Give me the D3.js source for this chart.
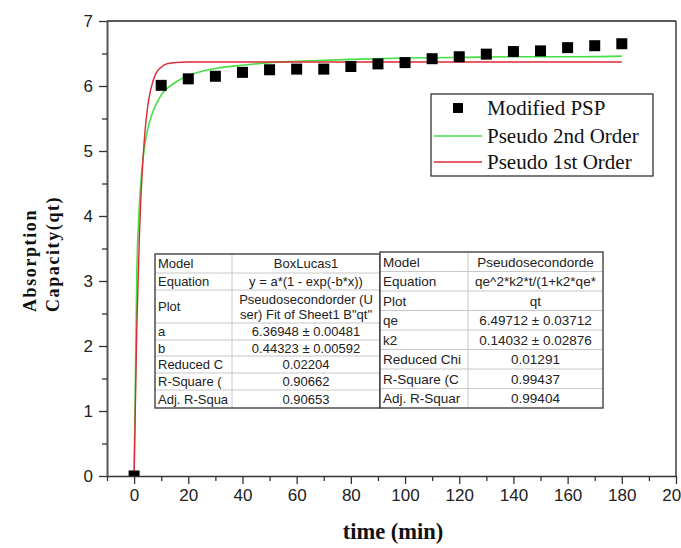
<!DOCTYPE html>
<html>
<head>
<meta charset="utf-8">
<script src="https://cdn.jsdelivr.net/npm/d3@7"></script>
<style>
  html, body { margin: 0; padding: 0; background: #fff; }
  svg { display: block; }
</style>
</head>
<body>
<div id="chart"></div>
<script>
// ---------------- DATA ----------------
const pspTime  = [0, 10, 20, 30, 40, 50, 60, 70, 80, 90, 100, 110, 120, 130, 140, 150, 160, 170, 180];
const pspValue = [0, 6.01, 6.11, 6.15, 6.21, 6.25, 6.26, 6.26, 6.30, 6.34, 6.36, 6.42, 6.45, 6.49, 6.53, 6.54, 6.59, 6.62, 6.65];

const secondTime  = [0, 1, 2, 3, 4, 5, 6, 8, 10, 15, 20, 30, 40, 50, 60, 80, 100, 120, 140, 160, 180];
const secondValue = [0, 3.10, 4.20, 4.76, 5.10, 5.33, 5.49, 5.71, 5.86, 6.05, 6.16, 6.27, 6.32, 6.36, 6.38, 6.41, 6.43, 6.44, 6.45, 6.45, 6.46];

const firstTime  = [0, 1, 2, 3, 4, 5, 6, 8, 10, 12, 15, 20, 30, 60, 90, 120, 150, 180];
const firstValue = [0, 2.28, 3.74, 4.68, 5.29, 5.68, 5.92, 6.19, 6.29, 6.34, 6.36, 6.37, 6.37, 6.37, 6.37, 6.37, 6.37, 6.37];

const xMajorTicks = [0, 20, 40, 60, 80, 100, 120, 140, 160, 180, 200];
const xMinorTicks = [-10, 10, 30, 50, 70, 90, 110, 130, 150, 170, 190];
const yMajorTicks = [0, 1, 2, 3, 4, 5, 6, 7];
const yMinorTicks = [0.5, 1.5, 2.5, 3.5, 4.5, 5.5, 6.5];

const legendLabels = ["Modified PSP", "Pseudo 2nd Order", "Pseudo 1st Order"];

const table1Labels = ["Model", "Equation", "Plot", "a", "b", "Reduced C", "R-Square (", "Adj. R-Squa"];
const table1Values = [["BoxLucas1"], ["y = a*(1 - exp(-b*x))"], ["Pseudosecondorder  (U", "ser) Fit of Sheet1 B\"qt\""],
                      ["6.36948 \u00b1 0.00481"], ["0.44323 \u00b1 0.00592"], ["0.02204"], ["0.90662"], ["0.90653"]];
const table2Labels = ["Model", "Equation", "Plot", "qe", "k2", "Reduced Chi", "R-Square (C", "Adj. R-Squar"];
const table2Values = [["Pseudosecondorde"], ["qe^2*k2*t/(1+k2*qe*"], ["qt"], ["6.49712 \u00b1 0.03712"],
                      ["0.14032 \u00b1 0.02876"], ["0.01291"], ["0.99437"], ["0.99404"]];

// ---------------- LAYOUT ----------------
const W = 681, H = 548;
const L = 107, R = 676, T = 21, B = 476;

const svg = d3.select("#chart").append("svg")
  .attr("width", W).attr("height", H)
  .style("background", "#fff");

const x = d3.scaleLinear().domain([-10, 200]).range([L, R]);
const y = d3.scaleLinear().domain([0, 7]).range([B, T]);

const sans = "'Liberation Sans', Arial, sans-serif";
const serif = "'Liberation Serif', 'Times New Roman', serif";

// clip
svg.append("defs").append("clipPath").attr("id", "plotClip")
  .append("rect").attr("x", L).attr("y", T).attr("width", R - L).attr("height", B - T);

// frame top/right
svg.append("line").attr("x1", L).attr("x2", R).attr("y1", T).attr("y2", T)
  .attr("stroke", "#222").attr("stroke-width", 1.3);
svg.append("line").attr("x1", R).attr("x2", R).attr("y1", T).attr("y2", B)
  .attr("stroke", "#222").attr("stroke-width", 1.3);

// ---------------- CURVES & POINTS ----------------
const plot = svg.append("g").attr("clip-path", "url(#plotClip)");

const line = d3.line().x(d => x(d[0])).y(d => y(d[1])).curve(d3.curveMonotoneX);

plot.append("path")
  .datum(secondTime.map((t, i) => [t, secondValue[i]]))
  .attr("d", line).attr("fill", "none")
  .attr("stroke", "#46e046").attr("stroke-width", 1.6);

plot.append("path")
  .datum(firstTime.map((t, i) => [t, firstValue[i]]))
  .attr("d", line).attr("fill", "none")
  .attr("stroke", "#dd2a36").attr("stroke-width", 1.4);

const sq = 11;
plot.selectAll("rect.pt")
  .data(pspTime.map((t, i) => [t, pspValue[i]]))
  .join("rect").attr("class", "pt")
  .attr("x", d => x(d[0]) - sq / 2).attr("y", d => y(d[1]) - sq / 2)
  .attr("width", sq).attr("height", sq).attr("fill", "#000");

// ---------------- TABLES ----------------
function drawTable(x0, x1, xDiv, y0, rowHeights, labels, values, fontSize, id) {
  const g = svg.append("g");
  const total = d3.sum(rowHeights);
  g.append("rect").attr("x", x0).attr("y", y0).attr("width", x1 - x0).attr("height", total)
    .attr("fill", "#fff");
  g.append("clipPath").attr("id", id)
    .append("rect").attr("x", xDiv + 1).attr("y", y0).attr("width", x1 - xDiv - 2).attr("height", total);
  let yy = y0;
  const cx = (xDiv + x1) / 2;
  labels.forEach((lab, i) => {
    const h = rowHeights[i];
    if (i > 0) {
      g.append("line").attr("x1", x0).attr("x2", x1).attr("y1", yy).attr("y2", yy)
        .attr("stroke", "#c8c8c8").attr("stroke-width", 1);
    }
    g.append("text").attr("x", x0 + 3).attr("y", yy + h / 2 + fontSize * 0.36)
      .attr("font-family", sans).attr("font-size", fontSize).attr("fill", "#222").text(lab);
    const vals = values[i];
    const lh = fontSize * 1.15;
    vals.forEach((v, j) => {
      g.append("text").attr("x", cx)
        .attr("y", yy + h / 2 + fontSize * 0.36 + (j - (vals.length - 1) / 2) * lh)
        .attr("text-anchor", "middle").attr("clip-path", `url(#${id})`)
        .attr("font-family", sans).attr("font-size", fontSize).attr("fill", "#222").text(v);
    });
    yy += h;
  });
  g.append("line").attr("x1", xDiv).attr("x2", xDiv).attr("y1", y0).attr("y2", y0 + total)
    .attr("stroke", "#c8c8c8").attr("stroke-width", 1);
  g.append("rect").attr("x", x0).attr("y", y0).attr("width", x1 - x0).attr("height", total)
    .attr("fill", "none").attr("stroke", "#333").attr("stroke-width", 1.3);
}

drawTable(155, 380, 232, 254, [19, 17, 33, 17, 16, 17, 17, 18], table1Labels, table1Values, 13, "t1clip");
drawTable(380, 603, 468, 252, [19.5, 19.5, 19.5, 19.5, 19.5, 19.5, 19.5, 19.5], table2Labels, table2Values, 13.5, "t2clip");

// ---------------- AXES ----------------
const xAxis = svg.append("g").attr("transform", `translate(0,${B})`)
  .call(d3.axisBottom(x).tickValues(xMajorTicks).tickSize(8).tickPadding(5).tickSizeOuter(0).tickFormat(d3.format("d")));
svg.append("g").attr("transform", `translate(0,${B})`)
  .call(d3.axisBottom(x).tickValues(xMinorTicks).tickSize(5).tickFormat("").tickSizeOuter(0))
  .select(".domain").remove();

const yAxis = svg.append("g").attr("transform", `translate(${L},0)`)
  .call(d3.axisLeft(y).tickValues(yMajorTicks).tickSize(8).tickPadding(6).tickSizeOuter(0).tickFormat(d3.format("d")));
svg.append("g").attr("transform", `translate(${L},0)`)
  .call(d3.axisLeft(y).tickValues(yMinorTicks).tickSize(5).tickFormat("").tickSizeOuter(0))
  .select(".domain").remove();

svg.selectAll(".domain").attr("stroke", "#333").attr("stroke-width", 1.5);
svg.selectAll(".tick line").attr("stroke", "#333").attr("stroke-width", 1.3);
svg.selectAll(".tick text").attr("font-family", sans).attr("font-size", 17).attr("fill", "#222");
yAxis.select(".domain").attr("stroke", "#555").attr("stroke-width", 2);

// axis titles
svg.append("text").attr("x", 393).attr("y", 539).attr("text-anchor", "middle")
  .attr("font-family", serif).attr("font-weight", "bold").attr("font-size", 22.5)
  .attr("fill", "#111").text("time (min)");

const yt = svg.append("text").attr("transform", "translate(36,312) rotate(-90)")
  .attr("font-family", serif).attr("font-weight", "bold").attr("font-size", 18)
  .attr("letter-spacing", 1.6).attr("fill", "#111");
yt.append("tspan").attr("x", 0).attr("y", 0).text("Absorption");
yt.append("tspan").attr("x", 0).attr("y", 23).text("Capacity(qt)");

// ---------------- LEGEND ----------------
const lg = svg.append("g");
lg.append("rect").attr("x", 431).attr("y", 94).attr("width", 222).attr("height", 82)
  .attr("fill", "#fff").attr("stroke", "#222").attr("stroke-width", 1.2);
const rowsY = [108, 136, 162];
lg.append("rect").attr("x", 453).attr("y", rowsY[0] - 5).attr("width", 10).attr("height", 10).attr("fill", "#000");
lg.append("line").attr("x1", 434).attr("x2", 482).attr("y1", rowsY[1]).attr("y2", rowsY[1])
  .attr("stroke", "#46e046").attr("stroke-width", 1.6);
lg.append("line").attr("x1", 434).attr("x2", 482).attr("y1", rowsY[2]).attr("y2", rowsY[2])
  .attr("stroke", "#dd2a36").attr("stroke-width", 1.4);
legendLabels.forEach((t, i) => {
  lg.append("text").attr("x", 487).attr("y", rowsY[i] + 7)
    .attr("font-family", serif).attr("font-size", 21).attr("fill", "#111").text(t);
});
</script>
</body>
</html>
